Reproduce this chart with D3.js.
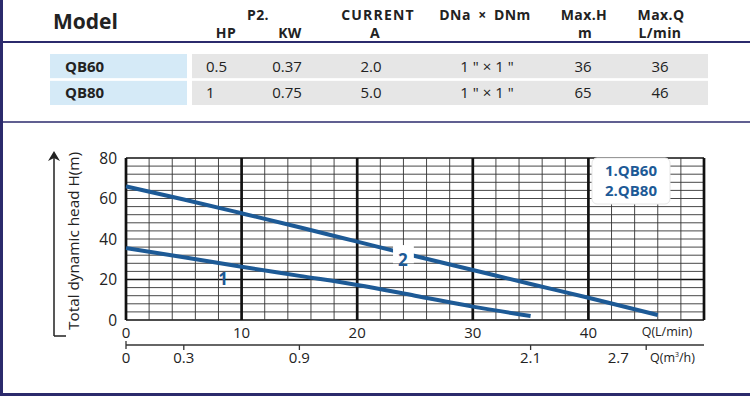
<!DOCTYPE html>
<html>
<head>
  <meta charset="utf-8" />
  <title>QB pump curves</title>
  <style>
    body { margin: 0; background: #fff; }
    svg { display: block; font-family: "Open Sans", sans-serif; }
  </style>
</head>
<body>
  <svg id="svg" width="750" height="396"></svg>
  <script src="https://cdn.jsdelivr.net/npm/d3@7"></script>
  <script>
    // table data
    const headTop = ['P2.', 'CURRENT', 'DNa\u2002\u00d7\u2002DNm', 'Max.H', 'Max.Q']
    const headBottom = ['HP', 'KW', 'A', 'm', 'L/min']
    const models = ['QB60', 'QB80']
    const hp = ['0.5', '1']
    const kw = ['0.37', '0.75']
    const current = ['2.0', '5.0']
    const ports = ['1 " \u00d7 1 "', '1 " \u00d7 1 "']
    const maxH = ['36', '65']
    const maxQ = ['36', '46']

    // curve data, Q in L/min, H in m
    const qb60 = [[0, 35.5], [5, 31], [10, 26.3], [15, 21.8], [20, 17.3], [25, 12], [30, 6.6], [35, 2]]
    const qb80 = [[0, 66], [5, 59.5], [10, 52.7], [15, 45.8], [20, 38.7], [25, 31.6], [30, 24.7], [35, 17.8], [40, 11], [46, 2.5]]
    const yTicks = [0, 20, 40, 60, 80]
    const xTicks = [0, 10, 20, 30, 40]
    const m3Ticks = [0, 0.3, 0.9, 2.1, 2.7]
    const legend = ['1.QB60', '2.QB80']

    const navy = '#2b2a6c'
    const blue = '#1d5a96'
    const ink = '#222'
    const svg = d3.select('#svg')

    // frame
    svg.append('rect').attr('x', 0).attr('y', 0).attr('width', 3).attr('height', 396).attr('fill', navy)
    svg.append('rect').attr('x', 0).attr('y', 393).attr('width', 750).attr('height', 3).attr('fill', navy)
    svg.append('line').attr('x1', 0).attr('x2', 750).attr('y1', 42).attr('y2', 42).attr('stroke', navy).attr('stroke-width', 2)
    svg.append('line').attr('x1', 0).attr('x2', 750).attr('y1', 122).attr('y2', 122).attr('stroke', navy).attr('stroke-width', 1.5)

    // table header
    svg.append('text').attr('x', 53).attr('y', 29).text('Model')
      .attr('font-size', 21).attr('font-weight', 700).attr('fill', ink)
    const topX = [258, 378, 485, 584, 661]
    const bottomX = [226, 290, 375, 585, 660]
    headTop.forEach((t, i) => {
      svg.append('text').attr('x', topX[i]).attr('y', 20).attr('text-anchor', 'middle')
        .attr('font-size', 14).attr('font-weight', 700).attr('fill', ink)
        .attr('letter-spacing', t === 'CURRENT' ? 1.2 : 0.4).text(t)
    })
    headBottom.forEach((t, i) => {
      svg.append('text').attr('x', bottomX[i]).attr('y', 38).attr('text-anchor', 'middle')
        .attr('font-size', 14).attr('font-weight', 700).attr('fill', ink)
        .attr('letter-spacing', 0.4).text(t)
    })

    // table rows
    const rowY = d3.scaleBand().domain(models).range([54, 105]).paddingInner(0.1)
    const cols = [kw, current, ports, maxH, maxQ]
    const colX = [287, 371, 487, 583, 660]
    models.forEach((m, i) => {
      const y = rowY(m), h = rowY.bandwidth()
      svg.append('rect').attr('x', 50).attr('y', y).attr('width', 137).attr('height', h).attr('fill', '#d5eaf7')
      svg.append('rect').attr('x', 192).attr('y', y).attr('width', 516).attr('height', h).attr('fill', '#e6e6e6')
      svg.append('text').attr('x', 65).attr('y', y + h / 2 + 5.5).attr('font-size', 15).attr('font-weight', 700)
        .attr('fill', ink).text(m)
      svg.append('text').attr('x', 206).attr('y', y + h / 2 + 5.5)
        .attr('font-size', 15).attr('fill', ink).text(hp[i])
      cols.forEach((c, j) => {
        svg.append('text').attr('x', colX[j]).attr('y', y + h / 2 + 5.5).attr('text-anchor', 'middle')
          .attr('font-size', 15).attr('fill', ink).text(c[i])
      })
    })

    // chart
    const x = d3.scaleLinear().domain([0, 50]).range([126, 704])
    const y = d3.scaleLinear().domain([0, 80]).range([320, 158])
    const g = svg.append('g')

    d3.range(0, 81, 4).forEach(v => {
      const thick = v === 0 || v === 20 || v === 80
      g.append('line').attr('x1', x(0)).attr('x2', x(50)).attr('y1', y(v)).attr('y2', y(v))
        .attr('stroke', thick ? '#111' : '#333').attr('stroke-width', thick ? 1.7 : 0.9)
    })
    d3.range(0, 51, 2).forEach(v => {
      const thick = v % 10 === 0
      g.append('line').attr('x1', x(v)).attr('x2', x(v)).attr('y1', y(0)).attr('y2', y(80))
        .attr('stroke', thick ? '#111' : '#333').attr('stroke-width', thick ? 2.7 : 0.9)
    })

    // y tick labels
    yTicks.forEach(v => {
      g.append('text').attr('x', 117).attr('y', y(v) + 5.5).attr('text-anchor', 'end')
        .attr('font-size', 15.5).attr('fill', ink).text(v)
    })
    // x tick labels
    xTicks.forEach(v => {
      g.append('text').attr('x', x(v)).attr('y', 338).attr('text-anchor', 'middle')
        .attr('font-size', 15).attr('fill', ink).text(v)
    })
    g.append('text').attr('x', 667).attr('y', 336).attr('text-anchor', 'middle')
      .attr('font-size', 12.5).attr('fill', ink).text('Q(L/min)')

    // m3/h axis (3 m3/h = 50 L/min)
    const q3 = d3.scaleLinear().domain([0, 3]).range([x(0), x(50)])
    g.append('line').attr('x1', x(0)).attr('x2', x(50)).attr('y1', 345).attr('y2', 345)
      .attr('stroke', '#333').attr('stroke-width', 1.3)
    m3Ticks.forEach(v => {
      g.append('line').attr('x1', q3(v)).attr('x2', q3(v)).attr('y1', v === 0 ? 341 : 345).attr('y2', v === 0 ? 349 : 350)
        .attr('stroke', '#333').attr('stroke-width', 1.3)
      // the 2.7 label sits left of its tick in the original
      g.append('text').attr('x', q3(v) + (v === 2.7 ? -28 : 0)).attr('y', 363).attr('text-anchor', 'middle')
        .attr('font-size', 15).attr('fill', ink).text(v)
    })
    const qm = g.append('text').attr('x', 650).attr('y', 362).attr('font-size', 12.5).attr('fill', ink)
    qm.append('tspan').text('Q(m')
    qm.append('tspan').attr('dy', -5).attr('font-size', 7).text('3')
    qm.append('tspan').attr('dy', 5).text('/h)')

    // y axis title with arrow
    g.append('path').attr('d', 'M54,336 L54,157 M54,336 L66,336').attr('fill', 'none')
      .attr('stroke', ink).attr('stroke-width', 1.5)
    g.append('path').attr('d', 'M48,161 L54,151 L60,161 L54,158 Z').attr('fill', ink)
    g.append('text').attr('transform', 'translate(79,241) rotate(-90)').attr('text-anchor', 'middle')
      .attr('font-size', 15.3).attr('fill', ink).text('Total dynamic head H(m)')

    // curves
    const line = d3.line().x(d => x(d[0])).y(d => y(d[1])).curve(d3.curveMonotoneX)
    g.append('path').datum(qb60).attr('d', line).attr('fill', 'none').attr('stroke', blue).attr('stroke-width', 4)
    g.append('path').datum(qb80).attr('d', line).attr('fill', 'none').attr('stroke', blue).attr('stroke-width', 4)

    // curve labels
    g.append('rect').attr('x', x(23.1)).attr('y', y(37)).attr('width', x(24.9) - x(23.1)).attr('height', y(28) - y(37)).attr('fill', '#fff')
    g.append('text').attr('x', x(23.95)).attr('y', y(26.7)).attr('text-anchor', 'middle')
      .attr('font-size', 17).attr('font-weight', 700).attr('fill', blue).text('2')
    g.append('text').attr('x', x(8.4)).attr('y', y(17.3)).attr('text-anchor', 'middle')
      .attr('font-size', 17).attr('font-weight', 700).attr('fill', blue).text('1')

    // legend
    g.append('rect').attr('x', 592).attr('y', 158).attr('width', 78).attr('height', 46).attr('rx', 5)
      .attr('fill', '#fff').attr('stroke', '#e6e6e6')
    legend.forEach((t, i) => {
      g.append('text').attr('x', 631).attr('y', 175.5 + i * 20.5).attr('text-anchor', 'middle')
        .attr('font-size', 15).attr('font-weight', 700).attr('fill', blue).text(t)
    })
  </script>
</body>
</html>
